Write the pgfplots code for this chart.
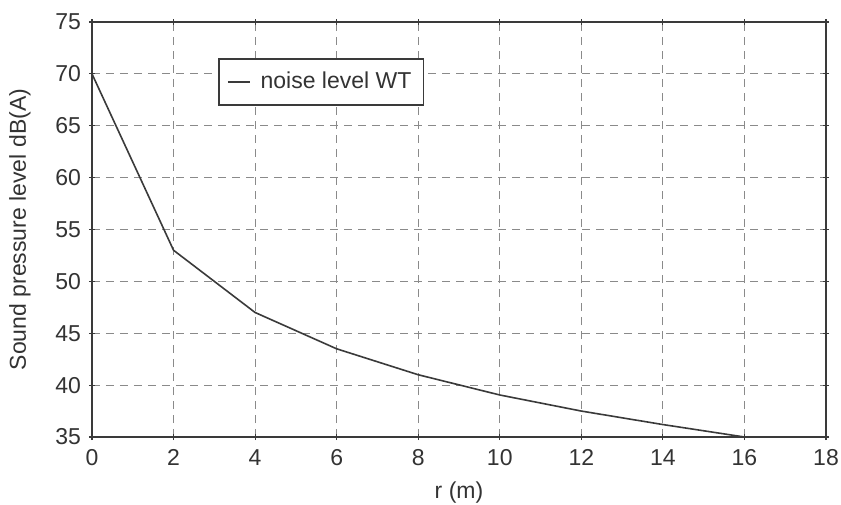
\documentclass[border=0pt]{standalone}
\usepackage{pgfplots}
\pgfplotsset{compat=1.18}
\usepackage{fontspec}
\setmainfont{Liberation Sans}
\definecolor{txt}{HTML}{333333}
\definecolor{axc}{HTML}{3A3A3A}
\definecolor{gridc}{HTML}{8A8A8A}
\begin{document}
\fontsize{11.5}{13.5}\selectfont
\begin{tikzpicture}
\useasboundingbox (-46pt,-33.5pt) rectangle (374.5pt,218.5pt);
\begin{axis}[
  scale only axis,
  width=367pt, height=207.5pt,
  xmin=0, xmax=18, ymin=35, ymax=75,
  xtick={0,2,...,18}, ytick={35,40,...,75},
  /pgf/number format/assume math mode=true,
  ticklabel style={font=\fontsize{11.5}{13.5}\selectfont, text=txt},
  xticklabel style={text height=8.5pt, text depth=0pt},
  label style={font=\fontsize{11.5}{13.5}\selectfont, text=txt},
  xlabel={r (m)}, ylabel={Sound pressure level dB(A)},
  xlabel style={at={(axis description cs:0.5,0)}, anchor=center, yshift=-28pt},
  ylabel style={at={([xshift=-36pt]axis description cs:0,0.5)}, anchor=center},
  axis line style={axc, line width=1pt},
  tick style={axc, line width=0.6pt},
  tick align=center, major tick length=3pt,
  grid=major,
  major grid style={gridc, dash pattern=on 4pt off 3pt, line width=0.5pt},
  legend style={at={(0.172,0.913)}, anchor=north west, draw=axc, line width=0.8pt,
    font=\fontsize{11.5}{13.5}\selectfont, text=txt, inner xsep=4pt, inner ysep=4.5pt},
  legend cell align=left,
  legend image code/.code={\draw[#1, line width=0.8pt] (0pt,0pt) -- (11pt,0pt); \path (14pt,0pt);},
]
\addplot[color=axc, line width=0.8pt] coordinates {
 (0,70) (2,53) (4,47) (6,43.5) (8,41) (10,39.05) (12,37.5) (14,36.2) (16,35)
};
\addlegendentry{noise level WT}
\end{axis}
\end{tikzpicture}
\end{document}
